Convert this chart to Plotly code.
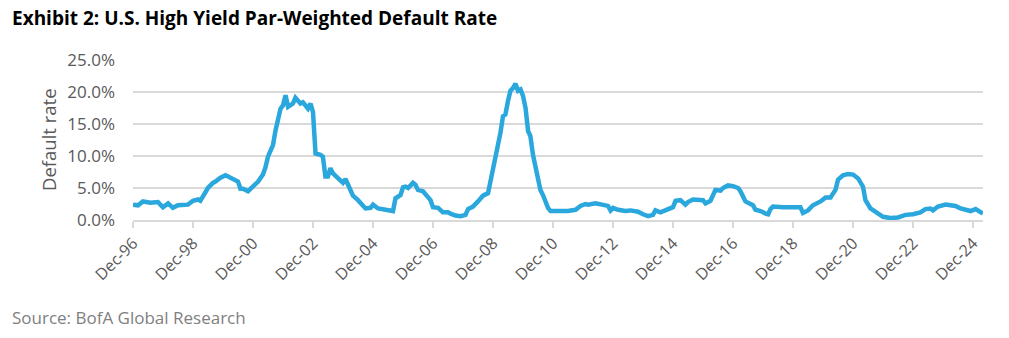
import plotly.graph_objects as go

# Month offsets from Dec-1996 and the par-weighted default rate (%) at each
month_offset = [
    0, 2, 4, 6, 7, 10, 12, 14, 16, 18, 22, 24, 26, 27, 29, 30, 32, 33, 35, 37,
    38, 40, 42, 43, 44, 46, 48, 50, 52, 53, 54, 56, 57, 58, 59, 60, 61, 62, 63, 64,
    65, 66, 67, 68, 70, 71, 72, 73, 75, 76, 77, 78, 79, 80, 82, 84, 85, 86, 87, 88,
    90, 92, 93, 95, 96, 98, 100, 102, 104, 105, 106, 107, 108, 109, 110, 112, 113, 114, 116, 118,
    119, 120, 122, 124, 126, 127, 129, 131, 133, 134, 136, 138, 140, 142, 143, 144, 145, 146, 147, 148,
    149, 150, 151, 152, 153, 154, 155, 156, 157, 158, 159, 160, 161, 163, 164, 165, 166, 167, 169, 171,
    174, 177, 179, 181, 182, 185, 187, 190, 191, 192, 194, 197, 199, 202, 204, 206, 208, 209, 211, 213,
    215, 216, 217, 219, 221, 222, 224, 226, 228, 229, 231, 233, 235, 236, 238, 240, 242, 243, 245, 247,
    248, 249, 251, 253, 254, 255, 256, 260, 264, 266, 267, 268, 270, 272, 275, 277, 279, 281, 282, 284,
    286, 288, 290, 292, 293, 295, 298, 300, 303, 306, 309, 312, 315, 317, 319, 320, 322, 325, 327, 329,
    331, 334, 335, 337, 340,
]
default_rate = [
    2.4, 2.3, 2.9, 2.8, 2.7, 2.8, 2.0, 2.6, 1.9, 2.3, 2.4, 3.0, 3.2, 3.0, 4.5, 5.0, 5.8, 6.0, 6.6, 7.0,
    6.8, 6.3, 6.0, 4.9, 4.9, 4.5, 5.3, 6.0, 7.1, 8.2, 9.9, 11.7, 14.0, 15.9, 17.4, 17.9, 19.5, 17.7, 18.0, 18.2,
    19.1, 18.7, 18.2, 18.4, 17.4, 18.2, 16.9, 10.4, 10.2, 9.9, 6.8, 6.8, 8.1, 7.3, 6.6, 5.8, 6.4, 5.4, 4.7, 3.8,
    3.1, 2.1, 1.8, 1.9, 2.4, 1.8, 1.7, 1.5, 1.4, 3.4, 3.7, 3.9, 5.1, 5.2, 5.0, 5.8, 5.5, 4.7, 4.5, 3.4,
    3.1, 2.0, 1.9, 1.2, 1.2, 1.0, 0.7, 0.6, 0.8, 1.7, 2.1, 2.9, 3.8, 4.2, 6.0, 7.6, 9.4, 11.8, 13.6, 16.2,
    16.5, 18.6, 20.2, 20.6, 21.3, 20.2, 20.4, 19.4, 17.5, 13.9, 13.1, 10.2, 8.6, 4.7, 3.9, 2.9, 1.9, 1.4, 1.4, 1.3,
    1.4, 1.6, 2.2, 2.5, 2.4, 2.6, 2.5, 2.2, 1.5, 1.9, 1.6, 1.4, 1.5, 1.3, 0.9, 0.6, 0.8, 1.5, 1.2, 1.6,
    1.8, 2.0, 3.0, 3.1, 2.4, 2.8, 3.2, 3.1, 3.1, 2.6, 3.0, 4.7, 4.6, 5.0, 5.4, 5.3, 5.0, 4.5, 2.9, 2.5,
    2.3, 1.6, 1.4, 1.0, 0.9, 1.7, 2.1, 2.0, 1.9, 2.0, 2.0, 1.1, 1.5, 2.3, 2.9, 3.5, 3.5, 4.7, 6.3, 7.0,
    7.2, 7.1, 6.5, 5.2, 3.1, 1.8, 1.0, 0.5, 0.3, 0.4, 0.8, 0.9, 1.2, 1.7, 1.8, 1.5, 2.1, 2.4, 2.3, 2.2,
    1.8, 1.4, 1.4, 1.7, 1.0,
]

x_tick_years = list(range(1996, 2025, 2))
x_tick_labels = [f"Dec-{y % 100:02d}" for y in x_tick_years]
y_tick_values = [0, 5, 10, 15, 20, 25]


def month_date(m):
    total = 1996 * 12 + 11 + m
    return f"{total // 12}-{total % 12 + 1:02d}-01"


dates = [month_date(m) for m in month_offset]
tick_dates = [f"{y}-12-01" for y in x_tick_years]

GREY_TEXT = "#595959"
GRID = "#d9d9d9"
FONT = "Open Sans"

fig = go.Figure(
    go.Scatter(
        x=dates,
        y=default_rate,
        mode="lines",
        line=dict(color="#2aa7dc", width=4.5),
        hoverinfo="skip",
    )
)

fig.update_layout(
    width=1009,
    height=338,
    margin=dict(l=133, r=26, t=60, b=117.5, autoexpand=False),
    paper_bgcolor="white",
    plot_bgcolor="white",
    showlegend=False,
    font=dict(family=FONT, color=GREY_TEXT),
)

fig.update_xaxes(
    type="date",
    range=["1996-12-01", month_date(month_offset[-1])],
    tickmode="array",
    tickvals=tick_dates,
    ticktext=x_tick_labels,
    tickangle=-45,
    tickfont=dict(size=16, color=GREY_TEXT),
    showgrid=False,
    showline=True,
    linecolor=GRID,
    linewidth=1.5,
    ticks="outside",
    ticklen=6,
    tickcolor=GRID,
    tickwidth=1.5,
    zeroline=False,
)

fig.update_yaxes(
    range=[0, 25],
    tickmode="array",
    tickvals=y_tick_values,
    ticktext=[f"{v:.1f}%" for v in y_tick_values],
    tickfont=dict(size=17, color=GREY_TEXT),
    showgrid=True,
    gridcolor=GRID,
    gridwidth=1.5,
    showline=False,
    zeroline=False,
    ticks="",
    ticklabelstandoff=17,
)

fig.add_annotation(
    text="Exhibit 2: U.S. High Yield Par-Weighted Default Rate",
    xref="paper", yref="paper",
    x=(10 - 133) / 850, y=(220.5 - 18) / 160.5,
    xanchor="left", yanchor="middle",
    showarrow=False,
    font=dict(family=FONT, size=19, color="black", weight="bold"),
)

fig.add_annotation(
    text="Default rate",
    xref="paper", yref="paper",
    x=(48 - 133) / 850, y=0.5,
    xanchor="center", yanchor="middle",
    textangle=-90,
    showarrow=False,
    font=dict(family=FONT, size=18.5, color=GREY_TEXT),
)

fig.add_annotation(
    text="Source: BofA Global Research",
    xref="paper", yref="paper",
    x=(10 - 133) / 850, y=(220.5 - 318) / 160.5,
    xanchor="left", yanchor="middle",
    showarrow=False,
    font=dict(family=FONT, size=17, color="#808080"),
)

fig.write_html("out.html")
